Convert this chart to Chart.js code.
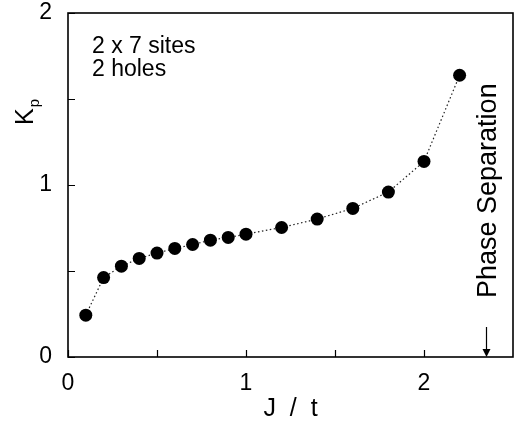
<!DOCTYPE html>
<html>
<head>
<meta charset="utf-8">
<script src="https://cdn.jsdelivr.net/npm/chart.js@4/dist/chart.umd.min.js"></script>
<style>
  html, body { margin: 0; padding: 0; background: #fff; overflow: hidden; }
  #wrap { width: 514px; height: 424px; }
</style>
</head>
<body>
<div id="wrap"><canvas id="c" width="514" height="424"></canvas></div>
<script>
// Pair-binding quantity K_p versus coupling J/t on a 2 x 7 ladder with 2 holes
const jOverT = [0.1, 0.2, 0.3, 0.4, 0.5, 0.6, 0.7, 0.8, 0.9, 1.0, 1.2, 1.4, 1.6, 1.8, 2.0, 2.2];
const kP     = [0.243, 0.462, 0.528, 0.573, 0.604, 0.631, 0.654, 0.679, 0.695, 0.714, 0.753, 0.802, 0.864, 0.959, 1.137, 1.638];

const xTicks = [0, 0.5, 1, 1.5, 2];
const yTicks = [0, 0.5, 1, 1.5, 2];
const phaseSeparationJ = 2.35;
const infoLines = ['2 x 7 sites', '2 holes'];

const FONT = "'Liberation Sans', Arial, Helvetica, sans-serif";

const points = jOverT.map((x, i) => ({ x: x, y: kP[i] }));

// Frame, inward ticks, y-axis title and the phase-separation marker
const decorations = {
  id: 'decorations',
  afterDraw(chart) {
    const { ctx, chartArea: a, scales: { x, y } } = chart;
    ctx.save();
    ctx.strokeStyle = '#000';
    ctx.fillStyle = '#000';

    // frame
    ctx.lineWidth = 1.6;
    ctx.strokeRect(a.left, a.top, a.right - a.left, a.bottom - a.top);

    // inward tick marks
    ctx.lineWidth = 1.2;
    ctx.beginPath();
    xTicks.forEach(v => {
      const px = Math.round(x.getPixelForValue(v)) + 0.5;
      ctx.moveTo(px, a.bottom);
      ctx.lineTo(px, a.bottom - 7);
    });
    yTicks.forEach(v => {
      const py = Math.round(y.getPixelForValue(v)) + 0.5;
      ctx.moveTo(a.left, py);
      ctx.lineTo(a.left + 7, py);
    });
    ctx.stroke();

    // y-axis title: K with subscript p, rotated
    ctx.save();
    ctx.translate(33, 125);
    ctx.rotate(-Math.PI / 2);
    ctx.textAlign = 'left';
    ctx.textBaseline = 'alphabetic';
    ctx.font = '25px ' + FONT;
    ctx.fillText('K', 0, 0);
    const kw = ctx.measureText('K').width;
    ctx.font = '15px ' + FONT;
    ctx.fillText('p', kw + 1, 6);
    ctx.restore();

    // info text
    ctx.font = '23px ' + FONT;
    ctx.textAlign = 'left';
    ctx.textBaseline = 'alphabetic';
    ctx.fillText(infoLines[0], 92, 53);
    ctx.fillText(infoLines[1], 92, 76);

    // phase separation marker
    const px = Math.round(x.getPixelForValue(phaseSeparationJ)) + 0.5;
    ctx.lineWidth = 1.2;
    ctx.beginPath();
    ctx.moveTo(px, 327);
    ctx.lineTo(px, a.bottom - 6);
    ctx.stroke();
    ctx.beginPath();
    ctx.moveTo(px - 4, a.bottom - 8);
    ctx.lineTo(px + 4, a.bottom - 8);
    ctx.lineTo(px, a.bottom);
    ctx.closePath();
    ctx.fill();

    ctx.save();
    ctx.translate(px + 9, 298);
    ctx.rotate(-Math.PI / 2);
    ctx.font = '27px ' + FONT;
    ctx.textAlign = 'left';
    ctx.textBaseline = 'alphabetic';
    ctx.fillText('Phase Separation', 0, 0);
    ctx.restore();

    ctx.restore();
  }
};

function noEdgePadding(s) {
  s.paddingTop = 0;
  s.paddingBottom = 0;
  s.paddingLeft = 0;
  s.paddingRight = 0;
}

new Chart(document.getElementById('c'), {
  type: 'scatter',
  data: {
    datasets: [{
      data: points,
      showLine: true,
      borderColor: '#222',
      borderWidth: 1.2,
      borderDash: [1.5, 2.5],
      pointRadius: 6.5,
      pointHoverRadius: 6.5,
      pointBackgroundColor: '#000',
      pointBorderColor: '#000',
      pointBorderWidth: 0
    }]
  },
  options: {
    responsive: false,
    animation: false,
    events: [],
    layout: { autoPadding: false, padding: { top: 13, right: 1, left: 0, bottom: 0 } },
    plugins: { legend: { display: false }, tooltip: { enabled: false } },
    scales: {
      x: {
        type: 'linear',
        min: 0, max: 2.5,
        border: { display: false },
        grid: { display: false },
        afterFit(s) { s.height = 67; noEdgePadding(s); },
        afterBuildTicks(s) { s.ticks = xTicks.map(v => ({ value: v })); },
        ticks: {
          autoSkip: false, maxRotation: 0, padding: 5,
          color: '#000',
          font: { family: FONT, size: 23 },
          callback: v => Number.isInteger(v) ? String(v) : ''
        },
        title: {
          display: true,
          text: 'J  /  t',
          color: '#000',
          font: { family: FONT, size: 25 },
          padding: { top: 6, bottom: 0 }
        }
      },
      y: {
        type: 'linear',
        min: 0, max: 2,
        border: { display: false },
        grid: { display: false },
        afterFit(s) { s.width = 68; noEdgePadding(s); },
        afterBuildTicks(s) { s.ticks = yTicks.map(v => ({ value: v })); },
        ticks: {
          autoSkip: false, padding: 8,
          color: '#000',
          font: { family: FONT, size: 23 },
          callback: v => Number.isInteger(v) ? String(v) : ''
        }
      }
    }
  },
  plugins: [decorations]
});
</script>
</body>
</html>
